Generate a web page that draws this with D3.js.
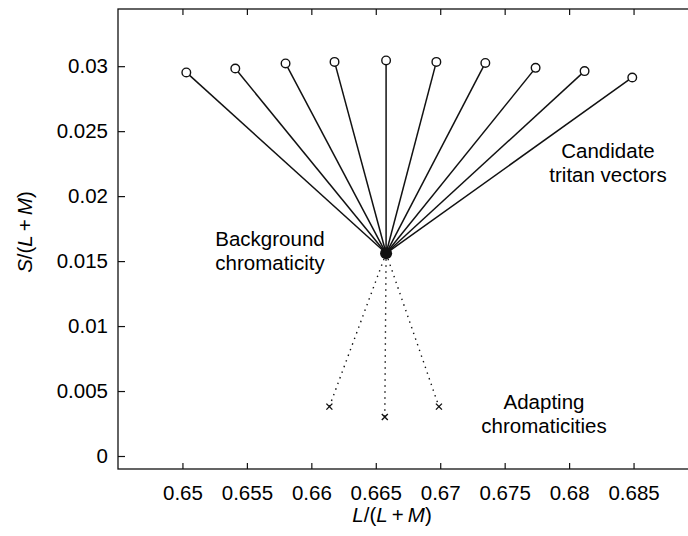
<!DOCTYPE html>
<html>
<head>
<meta charset="utf-8">
<script src="https://cdn.jsdelivr.net/npm/d3@7"></script>
<style>
    body { margin: 0; background: #fff; }
    svg { display: block; font-family: "Liberation Sans", Arial, Helvetica, sans-serif; }
    .tick text { font-size: 20.5px; fill: #000; }
    .label { font-size: 20.5px; fill: #000; }
</style>
</head>
<body>
<script>
// Candidate tritan vector tips
var tipL = [0.6503, 0.6541, 0.6580, 0.6618, 0.6658, 0.6697, 0.6735, 0.6774, 0.6812, 0.6849];
var tipS = [0.02952, 0.02982, 0.03021, 0.03033, 0.03044, 0.03033, 0.03025, 0.02987, 0.02962, 0.02913];

// Background chromaticity
var bgL = 0.6658;
var bgS = 0.0156;

// Adapting chromaticities
var adaptL = [0.6614, 0.6657, 0.6699];
var adaptS = [0.0038, 0.0030, 0.0038];

var xTicks = [0.65, 0.655, 0.66, 0.665, 0.67, 0.675, 0.68, 0.685];
var yTicks = [0, 0.005, 0.01, 0.015, 0.02, 0.025, 0.03];

var width = 688, height = 536;

var x = d3.scaleLinear()
    .domain([0.645, 0.69])
    .range([118, 698]);
var y = d3.scaleLinear()
    .domain([-0.001, 0.0344])
    .range([469, 9]);

var svg = d3.select("body").append("svg")
    .attr("width", width)
    .attr("height", height);

// Frame
svg.append("rect")
    .attr("x", x.range()[0])
    .attr("y", y.range()[1])
    .attr("width", x.range()[1] - x.range()[0])
    .attr("height", y.range()[0] - y.range()[1])
    .attr("fill", "none")
    .attr("stroke", "#111")
    .attr("stroke-width", 1.3);

// Axes (ticks pointing inward)
var fmt = function (d) { return d3.format("~g")(d); };

var xAxis = svg.append("g")
    .attr("transform", "translate(0," + y.range()[0] + ")")
    .call(d3.axisBottom(x).tickValues(xTicks).tickSize(-6).tickPadding(16).tickFormat(fmt));
xAxis.select(".domain").remove();

var xTop = svg.append("g")
    .attr("transform", "translate(0," + y.range()[1] + ")")
    .call(d3.axisTop(x).tickValues(xTicks).tickSize(-6).tickFormat(""));
xTop.select(".domain").remove();

var yAxis = svg.append("g")
    .attr("transform", "translate(" + x.range()[0] + ",0)")
    .call(d3.axisLeft(y).tickValues(yTicks).tickSize(-7).tickPadding(10).tickFormat(fmt));
yAxis.select(".domain").remove();

svg.selectAll(".tick line").attr("stroke", "#111").attr("stroke-width", 1.2);

// Candidate tritan vectors
var tips = tipL.map(function (d, i) { return { L: d, S: tipS[i] }; });

svg.selectAll(".vec")
    .data(tips)
    .enter().append("line")
    .attr("class", "vec")
    .attr("x1", x(bgL))
    .attr("y1", y(bgS))
    .attr("x2", function (d) { return x(d.L); })
    .attr("y2", function (d) { return y(d.S); })
    .attr("stroke", "#111")
    .attr("stroke-width", 1.5);

svg.selectAll(".tip")
    .data(tips)
    .enter().append("circle")
    .attr("class", "tip")
    .attr("cx", function (d) { return x(d.L); })
    .attr("cy", function (d) { return y(d.S); })
    .attr("r", 4.3)
    .attr("fill", "#fff")
    .attr("stroke", "#111")
    .attr("stroke-width", 1.4);

// Adapting chromaticities
var adapt = adaptL.map(function (d, i) { return { L: d, S: adaptS[i] }; });

svg.selectAll(".dot-line")
    .data(adapt)
    .enter().append("line")
    .attr("class", "dot-line")
    .attr("x1", x(bgL))
    .attr("y1", y(bgS))
    .attr("x2", function (d) { return x(d.L); })
    .attr("y2", function (d) { return y(d.S); })
    .attr("stroke", "#111")
    .attr("stroke-width", 1.4)
    .attr("stroke-dasharray", "1.4,4.6");

svg.selectAll(".cross")
    .data(adapt)
    .enter().append("path")
    .attr("class", "cross")
    .attr("transform", function (d) { return "translate(" + x(d.L) + "," + y(d.S) + ")"; })
    .attr("d", "M-3,-3L3,3M-3,3L3,-3")
    .attr("stroke", "#111")
    .attr("stroke-width", 1.4);

// Background point
svg.append("circle")
    .attr("cx", x(bgL))
    .attr("cy", y(bgS))
    .attr("r", 6)
    .attr("fill", "#111");

// Annotations
function addLabel(cx, lines, y0) {
    var t = svg.append("text")
        .attr("class", "label")
        .attr("text-anchor", "middle");
    lines.forEach(function (s, i) {
        t.append("tspan").attr("x", cx).attr("y", y0 + i * 24).text(s);
    });
}
addLabel(608, ["Candidate", "tritan vectors"], 158);
addLabel(270, ["Background", "chromaticity"], 246);
addLabel(544, ["Adapting", "chromaticities"], 409);

// Axis titles
var xt = svg.append("text")
    .attr("class", "label")
    .attr("x", 392)
    .attr("y", 522)
    .attr("text-anchor", "middle");
xt.append("tspan").attr("font-style", "italic").text("L");
xt.append("tspan").text("/(");
xt.append("tspan").attr("font-style", "italic").text("L");
xt.append("tspan").text("\u2009+\u2009");
xt.append("tspan").attr("font-style", "italic").text("M");
xt.append("tspan").text(")");

var yt = svg.append("text")
    .attr("class", "label")
    .attr("transform", "translate(32,232) rotate(-90)")
    .attr("text-anchor", "middle");
yt.append("tspan").attr("font-style", "italic").text("S");
yt.append("tspan").text("/(");
yt.append("tspan").attr("font-style", "italic").text("L");
yt.append("tspan").text("\u2009+\u2009");
yt.append("tspan").attr("font-style", "italic").text("M");
yt.append("tspan").text(")");
</script>
</body>
</html>
